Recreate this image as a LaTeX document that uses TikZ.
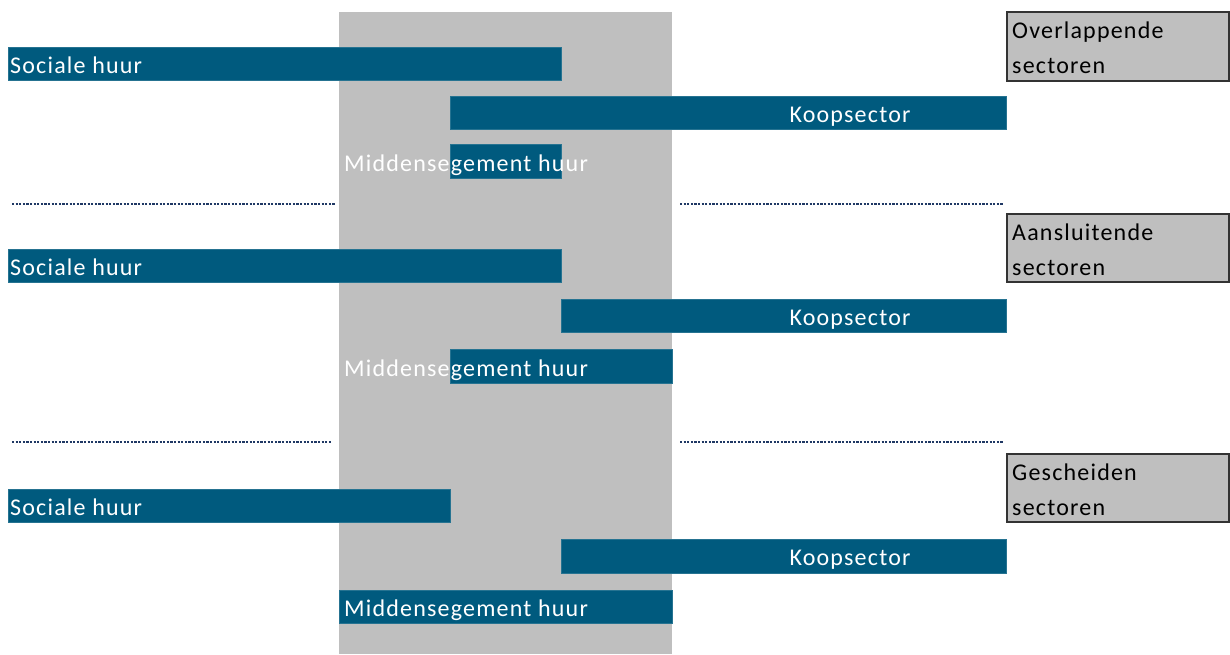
\documentclass[tikz,border=0pt]{standalone}
\usepackage{fontspec}
\setmainfont{Carlito}[LetterSpace=5]
\usepackage{tikz}
\usetikzlibrary{positioning}
\definecolor{sector}{HTML}{005A7E}
\definecolor{band}{HTML}{BFBFBF}
\definecolor{dots}{HTML}{1F3864}

\begin{document}
\begin{tikzpicture}[x=1pt,y=-1pt,font=\fontsize{24}{35}\selectfont,
  bar/.style={fill=sector,draw=sector!85!white,line width=.6pt},
  barlabel/.style={text=white,inner sep=0pt},
  kind/.style={fill=band,draw=black!80,line width=1.2pt},
  sep/.style={dots,line width=2.8pt,dash pattern=on 2.2pt off 1.4pt}]
\useasboundingbox(0,0)rectangle(1230,654);
% middle segment band
\fill[band](339,12)rectangle(672,654);
% overlapping sectors
\draw[bar](8,47)rectangle(561,80);
\node[barlabel,anchor=base west](soc1)at(10,73.5){Sociale huur};
\draw[bar](450,96)rectangle(1006,129);
\node[barlabel,anchor=base](koop1)at(850,122.5){Koopsector};
\draw[bar](450,144)rectangle(561,178);
\node[barlabel,anchor=base west](mid1)at(344,171){Middensegement huur};
\draw[kind](1007,12)rectangle(1229,81);
\node[anchor=north west,align=left,inner sep=0pt](over)at(1012,22){Overlappende\\sectoren};
\draw[sep](12,204)--(335,204);
\draw[sep](680,204)--(1003,204);
% adjoining sectors
\draw[bar](8,249)rectangle(561,282);
\node[barlabel,anchor=base west](soc2)at(10,275.5){Sociale huur};
\draw[bar](561,299)rectangle(1006,332);
\node[barlabel,anchor=base](koop2)at(850,325.5){Koopsector};
\draw[bar](450,349)rectangle(672,383);
\node[barlabel,anchor=base west](mid2)at(344,376){Middensegement huur};
\draw[kind](1007,214)rectangle(1229,282);
\node[anchor=north west,align=left,inner sep=0pt](adj)at(1012,224){Aansluitende\\sectoren};
\draw[sep](12,442)--(331,442);
\draw[sep](680,442)--(1003,442);
% separate sectors
\draw[bar](8,489)rectangle(450,522);
\node[barlabel,anchor=base west](soc3)at(10,515.5){Sociale huur};
\draw[bar](561,539)rectangle(1006,573);
\node[barlabel,anchor=base](koop3)at(850,565.5){Koopsector};
\draw[bar](339,590)rectangle(672,623);
\node[barlabel,anchor=base west](mid3)at(344,616.5){Middensegement huur};
\draw[kind](1007,454)rectangle(1229,522);
\node[anchor=north west,align=left,inner sep=0pt](sepr)at(1012,464){Gescheiden\\sectoren};
\end{tikzpicture}
\end{document}
